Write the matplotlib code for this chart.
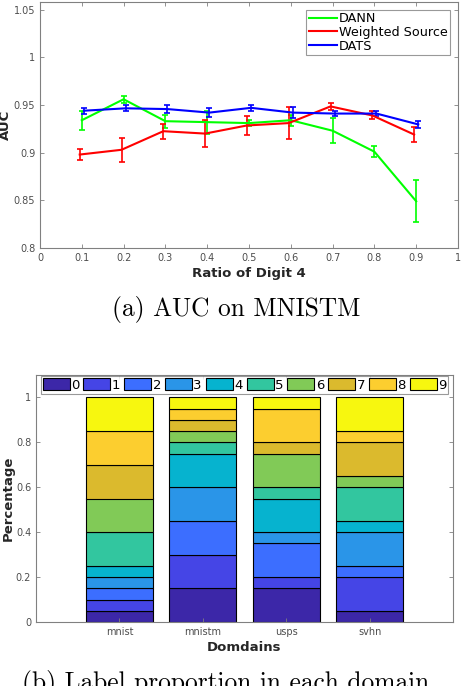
import numpy as np
import matplotlib
matplotlib.use("Agg")
import matplotlib.pyplot as plt
from matplotlib.lines import Line2D

# ---------- data: panel (a) ----------
ratios = [0.1, 0.2, 0.3, 0.4, 0.5, 0.6, 0.7, 0.8, 0.9]
dann_auc = [0.934, 0.956, 0.933, 0.932, 0.931, 0.934, 0.923, 0.901, 0.849]
dann_err = [0.010, 0.0035, 0.007, 0.012, 0.003, 0.006, 0.013, 0.006, 0.022]
ws_auc = [0.898, 0.903, 0.9225, 0.920, 0.9285, 0.931, 0.9485, 0.939, 0.919]
ws_err = [0.0056, 0.0126, 0.008, 0.014, 0.010, 0.017, 0.0037, 0.0042, 0.0075]
dats_auc = [0.944, 0.9465, 0.9457, 0.942, 0.947, 0.942, 0.941, 0.941, 0.9296]
dats_err = [0.003, 0.003, 0.004, 0.0044, 0.003, 0.006, 0.003, 0.0025, 0.004]
series_names = ["DANN", "Weighted Source", "DATS"]

# ---------- data: panel (b) ----------
domains = ["mnist", "mnistm", "usps", "svhn"]
digits = ["0", "1", "2", "3", "4", "5", "6", "7", "8", "9"]
proportions = {
    "mnist":  [0.05, 0.05, 0.05, 0.05, 0.05, 0.15, 0.15, 0.15, 0.15, 0.15],
    "mnistm": [0.15, 0.15, 0.15, 0.15, 0.15, 0.05, 0.05, 0.05, 0.05, 0.05],
    "usps":   [0.15, 0.05, 0.15, 0.05, 0.15, 0.05, 0.15, 0.05, 0.15, 0.05],
    "svhn":   [0.05, 0.15, 0.05, 0.15, 0.05, 0.15, 0.05, 0.15, 0.05, 0.15],
}
digit_colors = ["#3C27A8", "#4545E6", "#3C6EFF", "#2A95E8", "#06B3CF",
                "#32C69F", "#81CA57", "#DBBA2D", "#FCCE2F", "#F7F70F"]

spine_c = "#808080"
tick_c = "#4d4d4d"

fig = plt.figure(figsize=(4.62, 6.86), dpi=100)

# ---------- panel (a) ----------
ax1 = fig.add_axes([40/462, 1-248/686, 418/462, 246/686])
x = np.array(ratios)
specs = [
    (dann_auc, dann_err, "#00ff00", 0.0),
    (ws_auc, ws_err, "#ff0000", -0.005),
    (dats_auc, dats_err, "#0000ff", 0.005),
]
handles = []
for (y, e, c, off), name in zip(specs, series_names):
    ax1.errorbar(x + off, y, yerr=e, color=c, lw=1.5, elinewidth=1.2,
                 capsize=2.5, capthick=1.2)
    handles.append(Line2D([], [], color=c, lw=1.5, label=name))
ax1.set_xlim(0, 1)
ax1.set_ylim(0.8, 1.058)
ax1.set_xticks(np.arange(0, 1.01, 0.1))
ax1.set_xticklabels(["0", "0.1", "0.2", "0.3", "0.4", "0.5", "0.6", "0.7", "0.8", "0.9", "1"])
ax1.set_yticks([0.8, 0.85, 0.9, 0.95, 1.0, 1.05])
ax1.set_yticklabels(["0.8", "0.85", "0.9", "0.95", "1", "1.05"])
ax1.tick_params(direction="in", top=True, right=True, labelsize=7,
                colors=spine_c, labelcolor=tick_c, length=3, width=0.6)
for s in ax1.spines.values():
    s.set_color(spine_c)
    s.set_linewidth(0.8)
ax1.set_xlabel("Ratio of Digit 4", fontsize=9.5, fontweight="bold", color="#262626", labelpad=3)
ax1.set_ylabel("AUC", fontsize=9.5, fontweight="bold", color="#262626", labelpad=1)
leg1 = ax1.legend(handles=handles, loc="upper right", fontsize=9.2, frameon=True,
                  fancybox=False, edgecolor=spine_c, handlelength=2.2,
                  handletextpad=0.15, labelspacing=0.05, borderpad=0.2,
                  borderaxespad=0.6)
leg1.get_frame().set_linewidth(0.8)

fig.text(236/462, 1-316/686, "(a) AUC on MNISTM", ha="center", va="baseline",
         fontsize=18.3, family="cmr10")

# ---------- panel (b) ----------
ax2 = fig.add_axes([36/462, 1-622/686, 417/462, 247/686])
pos = np.arange(1, len(domains) + 1)
bottom = np.zeros(len(domains))
for k, d in enumerate(digits):
    vals = np.array([proportions[dom][k] for dom in domains])
    ax2.bar(pos, vals, width=0.8, bottom=bottom, color=digit_colors[k],
            edgecolor="black", linewidth=0.8, label=d)
    bottom += vals
ax2.set_xlim(0, 5)
ax2.set_ylim(0, 1.1)
ax2.set_xticks(pos)
ax2.set_xticklabels(domains)
ax2.set_yticks([0, 0.2, 0.4, 0.6, 0.8, 1.0])
ax2.set_yticklabels(["0", "0.2", "0.4", "0.6", "0.8", "1"])
ax2.tick_params(direction="in", top=True, right=True, labelsize=7,
                colors=spine_c, labelcolor=tick_c, length=3, width=0.6)
for s in ax2.spines.values():
    s.set_color(spine_c)
    s.set_linewidth(0.8)
ax2.set_xlabel("Domdains", fontsize=9.5, fontweight="bold", color="#262626", labelpad=3)
ax2.set_ylabel("Percentage", fontsize=9.5, fontweight="bold", color="#262626", labelpad=1)
leg2 = ax2.legend(loc="upper center", ncol=10, fontsize=9.5, frameon=True,
                  fancybox=False, edgecolor=spine_c, handlelength=2.05,
                  handleheight=1.0, handletextpad=0.1, columnspacing=0.3,
                  borderpad=0.15, borderaxespad=0.1)
leg2.get_frame().set_linewidth(0.8)

fig.text(226/462, 1-690/686, "(b) Label proportion in each domain", ha="center",
         va="baseline", fontsize=18.3, family="cmr10")

fig.savefig("out.png", dpi=100)
